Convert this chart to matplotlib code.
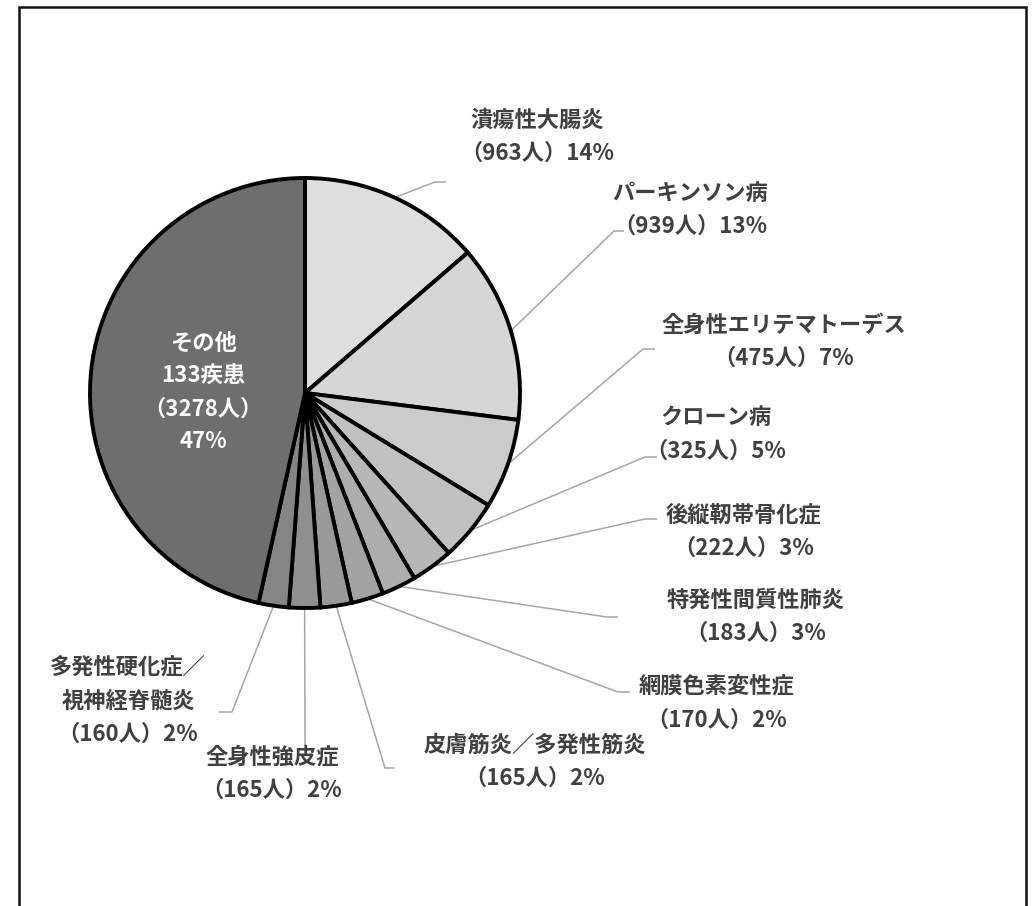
import numpy as np
import matplotlib.pyplot as plt
from matplotlib.patches import Rectangle

plt.rcParams['font.family'] = ['Noto Sans CJK JP', 'DejaVu Sans']

# data
names = ["潰瘍性大腸炎", "パーキンソン病", "全身性エリテマトーデス", "クローン病",
         "後縦靭帯骨化症", "特発性間質性肺炎", "網膜色素変性症",
         "皮膚筋炎／多発性筋炎", "全身性強皮症", "多発性硬化症／\n視神経脊髄炎", "その他"]
patients = [963, 939, 475, 325, 222, 183, 170, 165, 165, 160, 3278]
percents = [14, 13, 7, 5, 3, 3, 2, 2, 2, 2, 47]
other_count = 133

colors = ["#dedede", "#d6d6d6", "#cbcbcb", "#c1c1c1", "#b7b7b7", "#adadad",
          "#a3a3a3", "#999999", "#8f8f8f", "#858585", "#6e6e6e"]

# layout (pixel positions: label centre x, first line y, leader elbow x/y, end x)
label_pos = [(537, 120), (690, 193), (784, 325), (716, 418), (744, 515),
             (756, 600), (717, 687), (535, 745), (272, 757), (128, 668)]
elbows = [(435, 182, 446), (614, 231, 624), (643, 349, 655), (645, 457, 657),
          (645, 519, 657), (607, 617, 618), (618, 692, 630), (385, 768, 395),
          (305, 745, 305), (232, 712, 219)]

W, H = 1032, 906
cx, cy, R = 305, 393, 215
line_gap = 33
text_color = "#404040"
fs = 16

fig = plt.figure(figsize=(W / 100, H / 100), dpi=100)
ax = fig.add_axes([0, 0, 1, 1])

wedges, _ = ax.pie(patients, colors=colors, startangle=90, counterclock=False,
                   center=(cx, H - cy), radius=R,
                   wedgeprops=dict(edgecolor="black", linewidth=2.8))
ax.set_xlim(0, W)
ax.set_ylim(0, H)
ax.set_aspect("auto")
ax.axis("off")

# outer frame
ax.add_patch(Rectangle((18.5, -20), 1007, H - 7 + 20, fill=False,
                       edgecolor="#111111", linewidth=1.8, clip_on=True))

# leader lines + labels
for i in range(10):
    w = wedges[i]
    mid = np.deg2rad((w.theta1 + w.theta2) / 2)
    sx = cx + R * np.cos(mid)
    sy = (H - cy) + R * np.sin(mid)
    ex, ey, tx = elbows[i]
    ax.plot([sx, ex, tx], [sy, H - ey, H - ey], color="#a6a6a6", lw=1.1,
            solid_capstyle="butt", zorder=0.5)

    lx, ly = label_pos[i]
    lines = names[i].split("\n") + [f"（{patients[i]}人）{percents[i]}%"]
    for k, s in enumerate(lines):
        ax.text(lx, H - (ly + k * line_gap), s, ha="center", va="center",
                fontsize=fs, fontweight="bold", color=text_color)

# label inside the largest slice
inside = ["その他", f"{other_count}疾患", f"（{patients[-1]}人）", f"{percents[-1]}%"]
for k, s in enumerate(inside):
    ax.text(203, H - (343 + k * 33), s, ha="center", va="center",
            fontsize=fs, fontweight="bold", color="white")

fig.savefig("out.png", dpi=100)
